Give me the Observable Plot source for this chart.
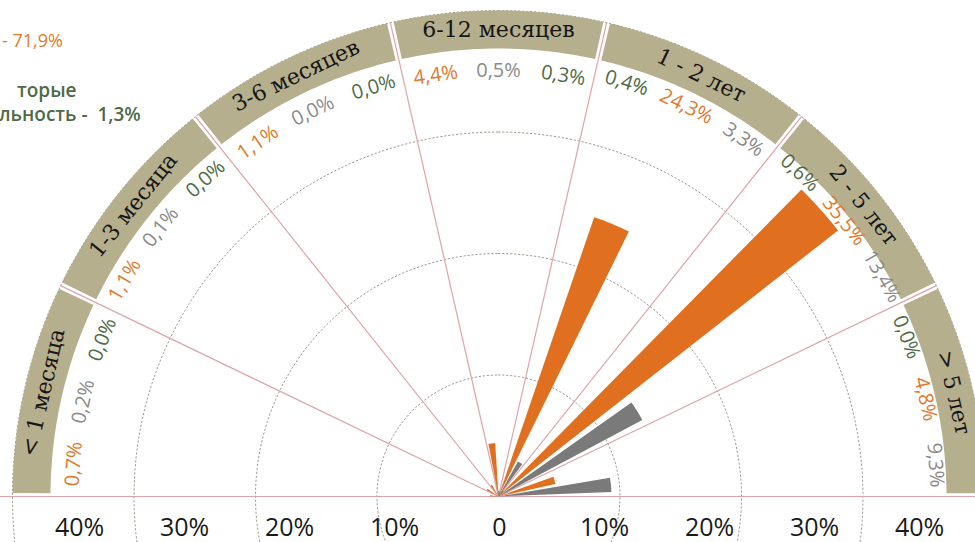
<!DOCTYPE html>
<html><head><meta charset="utf-8">
<script src="https://cdn.jsdelivr.net/npm/d3@7"></script>
<script src="https://cdn.jsdelivr.net/npm/@observablehq/plot@0.6"></script>
<style>
html,body{margin:0;padding:0;background:#fff;overflow:hidden;}
#wrap{position:relative;width:975px;height:542px;overflow:hidden;}
#wrap svg{position:absolute;left:0;}
.leg{position:absolute;font-family:"Open Sans",sans-serif;font-size:18px;line-height:18px;white-space:pre;}
</style></head><body><div id="wrap"></div>
<script>
// ---------- data ----------
const categories = ["< 1 месяца", "1-3 месяца", "3-6 месяцев", "6-12 месяцев", "1 - 2 лет", "2 - 5 лет", "> 5 лет"];
const seriesKeys = ["seriesA", "seriesB", "seriesC"];
const seriesAValues = [0.7, 1.1, 1.1, 4.4, 24.3, 35.5, 4.8];
const seriesBValues = [0.2, 0.1, 0.0, 0.5, 3.3, 13.4, 9.3];
const seriesCValues = [0.0, 0.0, 0.0, 0.3, 0.4, 0.6, 0.0];
const ringValues = [10, 20, 30, 40];
const axisTicks = [-40, -30, -20, -10, 0, 10, 20, 30, 40];

// ---------- layout ----------
const W = 975, H = 542, CX = 498, CY = 496, K = 12.15; // px per percent
const valuesOf = {seriesA: seriesAValues, seriesB: seriesBValues, seriesC: seriesCValues};
const barColor = {seriesA: "#e0701f", seriesB: "#7a7a7a", seriesC: "#4e6b43"};
const labelColor = {seriesA: "#e27a2e", seriesB: "#8b8b8b", seriesC: "#4f6b45"};
const nCat = categories.length, secW = 180 / nCat, rad = Math.PI / 180;
const leftOrder = ["seriesA", "seriesB", "seriesC"], rightOrder = ["seriesC", "seriesA", "seriesB"];
const leftBarFrac = {seriesA: 0.22, seriesB: 0.5, seriesC: 0.76};
const rightBarFrac = {seriesC: 0.1, seriesA: 0.377, seriesB: 0.77};
const labelFrac = [0.17, 0.5, 0.84];
const labelRadiusPx = [426, 432, 428, 426, 433, 442, 438];
const barW = 7.3;                       // degrees
const bandIn = 448 / K, bandOut = 486 / K, bandMid = 467 / K;
const pt = (r, deg) => [r * Math.sin(deg * rad), r * Math.cos(deg * rad)];
const secStart = i => -90 + i * secW;
const isRight = i => i >= 4;

// wedges
const wedges = [];
categories.forEach((c, i) => {
  seriesKeys.forEach(s => {
    const v = valuesOf[s][i];
    if (!(v > 0)) return;
    const a = secStart(i) + (isRight(i) ? rightBarFrac : leftBarFrac)[s] * secW;
    const id = c + "|" + s;
    wedges.push({id, s, x: 0, y: 0});
    for (let k = 0; k <= 8; k++) {
      const [x, y] = pt(v, a - barW / 2 + barW * k / 8);
      wedges.push({id, s, x, y});
    }
  });
});

// band segments
const band = [];
categories.forEach((c, i) => {
  const a0 = secStart(i) + 0.4, a1 = secStart(i) + secW - 0.4;
  for (let k = 0; k <= 30; k++) { const [x, y] = pt(bandOut, a0 + (a1 - a0) * k / 30); band.push({id: c, x, y}); }
  for (let k = 30; k >= 0; k--) { const [x, y] = pt(bandIn, a0 + (a1 - a0) * k / 30); band.push({id: c, x, y}); }
});

// rings
const rings = [];
ringValues.forEach(r => { for (let k = 0; k < 180; k++) { const [x, y] = pt(r, k * 2); rings.push({r, x, y}); } });

// radial boundary lines
const bounds = d3.range(1, nCat).map(i => { const [x, y] = pt(bandOut, secStart(i)); return {x, y}; });

// value labels
const fmt = v => v.toFixed(1).replace(".", ",") + "%";
const valueLabels = [];
categories.forEach((c, i) => {
  (isRight(i) ? rightOrder : leftOrder).forEach((s, j) => {
    const a = secStart(i) + labelFrac[j] * secW;
    const [x, y] = pt(labelRadiusPx[i] / K, a);
    valueLabels.push({s, x, y, a, text: fmt(valuesOf[s][i])});
  });
});

const catLabels = categories.map((c, i) => {
  const a = secStart(i) + secW / 2; const [x, y] = pt(bandMid, a);
  return {c, x, y, a};
});

const pink = "#dca4aa";

const main = Plot.plot({
  width: W, height: H, margin: 0,
  x: {domain: [-CX / K, (W - CX) / K], axis: null},
  y: {domain: [-(H - CY) / K, CY / K], axis: null},
  color: {type: "ordinal", domain: seriesKeys, range: seriesKeys.map(s => barColor[s])},
  style: {background: "transparent", overflow: "hidden"},
  marks: [
    Plot.line(rings, {x: "x", y: "y", z: "r", stroke: "#9d9d90", strokeWidth: 1, strokeDasharray: "1.5,2.5", curve: "linear-closed", clip: true}),
    Plot.ruleY([0], {stroke: pink, strokeWidth: 1.2}),
    Plot.link(bounds, {x1: 0, y1: 0, x2: "x", y2: "y", stroke: pink, strokeWidth: 1.2}),
    Plot.line(band, {x: "x", y: "y", z: "id", fill: "#b6af8e", stroke: "none", curve: "linear-closed"}),
    Plot.line(wedges, {x: "x", y: "y", z: "id", fill: "s", stroke: "none", curve: "linear-closed"}),
    Plot.text(catLabels, {x: "x", y: "y", rotate: "a", text: "c", fill: "#151515", fontFamily: "DejaVu Serif", fontSize: 22, textAnchor: "middle", lineAnchor: "middle"}),
    ...seriesKeys.map(s => Plot.text(valueLabels.filter(d => d.s === s), {x: "x", y: "y", rotate: "a", text: "text", fill: labelColor[s], fontFamily: "Open Sans", fontSize: 20, textAnchor: "middle", lineAnchor: "middle"}))
  ]
});
main.style.top = "0px";

const tickRow = Plot.plot({
  width: W, height: 46, margin: 0,
  x: {type: "point", domain: axisTicks, range: [78, 920], padding: 0, axis: null},
  style: {background: "transparent"},
  marks: [
    Plot.text(axisTicks, {x: d => d, frameAnchor: "middle", text: d => d === 0 ? "0" : Math.abs(d) + "%", fill: "#1a1a1a", fontFamily: "Open Sans", fontSize: 25, lineAnchor: "middle"})
  ]
});
tickRow.style.top = "504px";

const wrap = document.getElementById("wrap");
wrap.append(main, tickRow);

// cropped legend fragments (top-left)
[["- 71,9%", 2, 31, "#e27a2e", 400, 18], ["торые", 17, 81, "#4f6b45", 600, 19], ["льность -  1,3%", -1, 105, "#4f6b45", 600, 19]].forEach(([t, l, tp, col, fw, fs]) => {
  const d = document.createElement("div");
  d.className = "leg"; d.textContent = t;
  d.style.left = l + "px"; d.style.top = tp + "px"; d.style.color = col; d.style.fontWeight = fw;
  d.style.fontSize = fs + "px"; d.style.lineHeight = fs + "px";
  wrap.append(d);
});
</script></body></html>
